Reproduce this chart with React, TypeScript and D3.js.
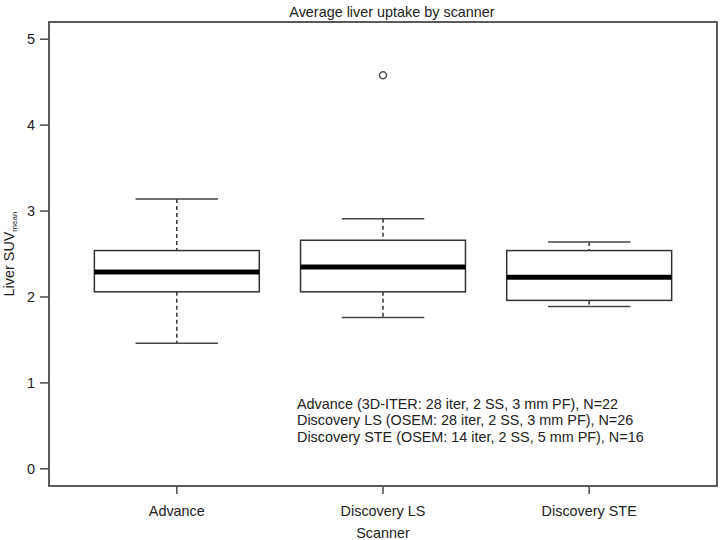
import React from 'react';
import * as d3 from 'd3';

// box statistics
const scanners = ['Advance', 'Discovery LS', 'Discovery STE'];
const lowerWhisker = [1.46, 1.76, 1.89];
const lowerQuartile = [2.06, 2.06, 1.96];
const medians = [2.29, 2.35, 2.23];
const upperQuartile = [2.54, 2.66, 2.54];
const upperWhisker = [3.14, 2.91, 2.64];
const outliers = [[], [4.58], []];
const yTicks = [0, 1, 2, 3, 4, 5];
const notes = [
  'Advance (3D-ITER: 28 iter, 2 SS, 3 mm PF), N=22',
  'Discovery LS (OSEM: 28 iter, 2 SS, 3 mm PF), N=26',
  'Discovery STE (OSEM: 14 iter, 2 SS, 5 mm PF), N=16',
];

const W = 724, H = 540;
const font = '"Liberation Sans", Arial, Helvetica, sans-serif';
const fs = 14.4;

export default function App() {
  // R-style plot region: x from 0.5..3.5 and y from 0..5, each padded 4%
  const x = d3.scaleLinear().domain([0.38, 3.62]).range([49, 717]);
  const y = d3.scaleLinear().domain([-0.2, 5.2]).range([486, 22]);
  const boxHalf = x(1.4) - x(1);
  const stapleHalf = boxHalf / 2;
  const axisColor = '#4a4a4a';

  return (
    <svg width={W} height={H} style={{ position: 'absolute', left: 0, top: 0, background: '#fff' }}
      fontFamily={font}>
      <text x={392} y={17} textAnchor="middle" fontSize={fs} fill="#222">Average liver uptake by scanner</text>

      {/* plot frame */}
      <rect x={x(0.38)} y={y(5.2)} width={x(3.62) - x(0.38)} height={y(-0.2) - y(5.2)}
        fill="none" stroke={axisColor} strokeWidth={1.8} />

      {/* y axis */}
      {yTicks.map(t => (
        <g key={t}>
          <line x1={x(0.38) - 9} x2={x(0.38)} y1={y(t)} y2={y(t)} stroke={axisColor} strokeWidth={1.5} />
          <text x={x(0.38) - 14} y={y(t) + 5} textAnchor="end" fontSize={fs} fill="#222">{t}</text>
        </g>
      ))}
      <text transform={`translate(14,${y(2.5)}) rotate(-90)`} textAnchor="middle" fontSize={fs} fill="#222">
        Liver SUV<tspan fontSize={8} dy={3}>mean</tspan>
      </text>

      {/* x axis */}
      {scanners.map((s, i) => (
        <g key={s}>
          <line x1={x(i + 1)} x2={x(i + 1)} y1={y(-0.2)} y2={y(-0.2) + 8} stroke={axisColor} strokeWidth={1.5} />
          <text x={x(i + 1)} y={516} textAnchor="middle" fontSize={fs} fill="#222">{s}</text>
        </g>
      ))}
      <text x={x(2)} y={538} textAnchor="middle" fontSize={fs} fill="#222">Scanner</text>

      {/* boxes */}
      {scanners.map((s, i) => {
        const cx = x(i + 1);
        return (
          <g key={s}>
            <line x1={cx} x2={cx} y1={y(upperWhisker[i])} y2={y(upperQuartile[i])}
              stroke="#333" strokeWidth={1.5} strokeDasharray="4,3" />
            <line x1={cx} x2={cx} y1={y(lowerQuartile[i])} y2={y(lowerWhisker[i])}
              stroke="#333" strokeWidth={1.5} strokeDasharray="4,3" />
            <line x1={cx - stapleHalf} x2={cx + stapleHalf} y1={y(upperWhisker[i])} y2={y(upperWhisker[i])}
              stroke="#444" strokeWidth={1.5} />
            <line x1={cx - stapleHalf} x2={cx + stapleHalf} y1={y(lowerWhisker[i])} y2={y(lowerWhisker[i])}
              stroke="#444" strokeWidth={1.5} />
            <rect x={cx - boxHalf} y={y(upperQuartile[i])} width={boxHalf * 2}
              height={y(lowerQuartile[i]) - y(upperQuartile[i])} fill="#fff" stroke="#333" strokeWidth={1.5} />
            <line x1={cx - boxHalf} x2={cx + boxHalf} y1={y(medians[i])} y2={y(medians[i])}
              stroke="#000" strokeWidth={5} />
            {outliers[i].map((o, k) => (
              <circle key={k} cx={cx} cy={y(o)} r={3.5} fill="none" stroke="#555" strokeWidth={1.6} />
            ))}
          </g>
        );
      })}

      {/* legend notes */}
      {notes.map((n, i) => (
        <text key={n} x={297} y={408.5 + i * 16.5} fontSize={fs} fill="#222">{n}</text>
      ))}
    </svg>
  );
}
